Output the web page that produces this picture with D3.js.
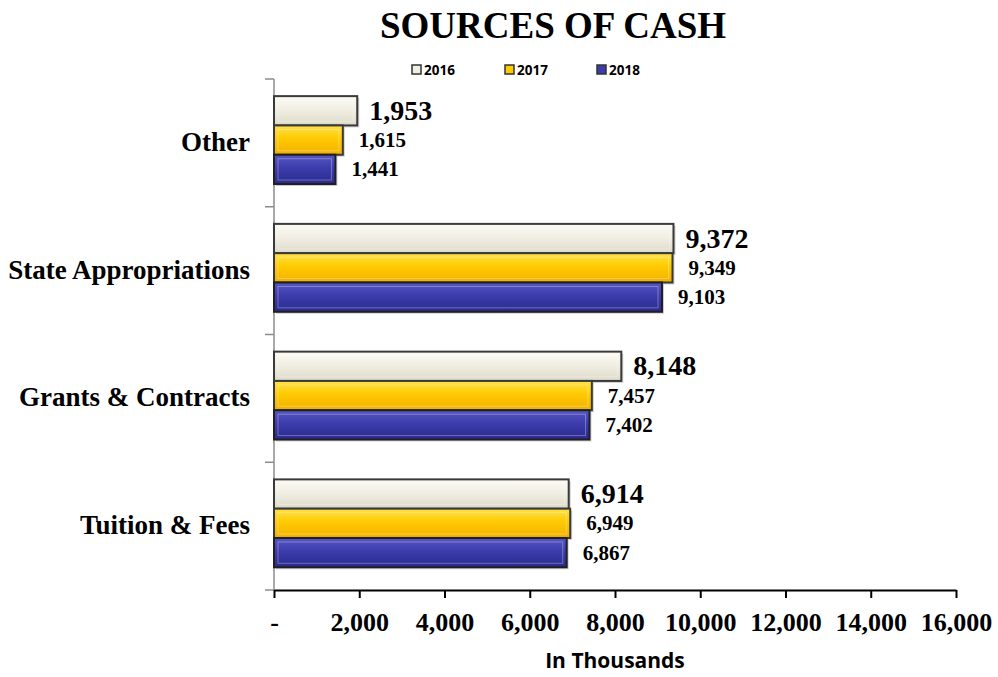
<!DOCTYPE html>
<html>
<head>
<meta charset="utf-8">
<script src="https://cdn.jsdelivr.net/npm/d3@7"></script>
<style>
  body { margin: 0; background: #fff; }
  svg { display: block; }
</style>
</head>
<body>
<div id="chart"></div>
<script>
// values (in thousands)
const categories = ["Other", "State Appropriations", "Grants & Contracts", "Tuition & Fees"];
const years = ["2016", "2017", "2018"];
const values2016 = [1953, 9372, 8148, 6914];
const values2017 = [1615, 9349, 7457, 6949];
const values2018 = [1441, 9103, 7402, 6867];
const xTicks = [0, 2000, 4000, 6000, 8000, 10000, 12000, 14000, 16000];

const width = 998, height = 677;
const plotLeft = 274, plotRight = 956, plotTop = 79, plotBottom = 590;

const seriesByYear = { "2016": values2016, "2017": values2017, "2018": values2018 };

const colors = {
    "2016": { top: "#fbfaf4", mid: "#f1efe4", bottom: "#dddac9", stroke: "#3a3a3a" },
    "2017": { top: "#ffe24a", mid: "#ffca00", bottom: "#f2b000", stroke: "#3a3a3a" },
    "2018": { top: "#5656c4", mid: "#3c3cac", bottom: "#2a2a8e", stroke: "#202020" }
};

const serif = "'Liberation Serif', 'Times New Roman', serif";

const svg = d3.select("#chart")
    .append("svg")
    .attr("width", width)
    .attr("height", height);

const defs = svg.append("defs");
years.forEach(y => {
    let g = defs.append("linearGradient")
        .attr("id", "grad" + y)
        .attr("x1", 0).attr("y1", 0).attr("x2", 0).attr("y2", 1);
    g.append("stop").attr("offset", "0%").attr("stop-color", colors[y].top);
    g.append("stop").attr("offset", "45%").attr("stop-color", colors[y].mid);
    g.append("stop").attr("offset", "100%").attr("stop-color", colors[y].bottom);
});

const x = d3.scaleLinear().domain([0, 16000]).range([plotLeft, plotRight]);
const y0 = d3.scaleBand().domain(categories).range([plotTop, plotBottom]);
const y1 = d3.scaleBand().domain(years).range([0, y0.bandwidth()]).paddingOuter(0.68).align(0.43);

// title
svg.append("text")
    .attr("x", 553).attr("y", 38)
    .attr("text-anchor", "middle")
    .style("font-family", serif)
    .style("font-weight", "bold")
    .style("font-size", "37px")
    .text("SOURCES OF CASH");

// legend
const legendX = [412, 505, 597];
const legend = svg.append("g");
years.forEach((yr, i) => {
    let g = legend.append("g").attr("transform", "translate(" + legendX[i] + ",65)");
    g.append("rect")
        .attr("width", 9).attr("height", 9)
        .attr("fill", colors[yr].mid)
        .attr("stroke", "#333").attr("stroke-width", 1.5);
    g.append("text")
        .attr("x", 12).attr("y", 10)
        .style("font-family", "'Open Sans', sans-serif")
        .style("font-weight", "bold")
        .style("font-size", "13.5px")
        .text(yr);
});

// y axis (category separators)
const yAxis = svg.append("g");
yAxis.append("line")
    .attr("x1", plotLeft).attr("x2", plotLeft)
    .attr("y1", plotTop).attr("y2", plotBottom)
    .attr("stroke", "#8c8c8c").attr("stroke-width", 1.5);
const sepYs = categories.map(c => y0(c)).concat([plotBottom]);
yAxis.selectAll("line.sep")
    .data(sepYs)
    .enter()
    .append("line")
    .attr("class", "sep")
    .attr("x1", plotLeft - 9).attr("x2", plotLeft)
    .attr("y1", d => d).attr("y2", d => d)
    .attr("stroke", "#8c8c8c").attr("stroke-width", 1.5);

yAxis.selectAll("text")
    .data(categories)
    .enter()
    .append("text")
    .attr("x", plotLeft - 24)
    .attr("y", d => y0(d) + y0.bandwidth() / 2 + 8)
    .attr("text-anchor", "end")
    .style("font-family", serif)
    .style("font-weight", "bold")
    .style("font-size", "27px")
    .text(d => d);

// x axis
const xAxis = svg.append("g")
    .attr("transform", "translate(0," + plotBottom + ")")
    .call(d3.axisBottom(x)
        .tickValues(xTicks)
        .tickSizeInner(8)
        .tickSizeOuter(0)
        .tickPadding(15)
        .tickFormat(d => d === 0 ? "-" : d3.format(",")(d)));
xAxis.select(".domain").attr("stroke", "#000").attr("stroke-width", 2);
xAxis.selectAll(".tick line").attr("stroke", "#000").attr("stroke-width", 2);
xAxis.selectAll(".tick text")
    .attr("fill", "#000")
    .style("font-family", serif)
    .style("font-weight", "bold")
    .style("font-size", "26px");

svg.append("text")
    .attr("x", 615).attr("y", 668)
    .attr("text-anchor", "middle")
    .style("font-family", "'Open Sans', sans-serif")
    .style("font-weight", "bold")
    .style("font-size", "21px")
    .text("In Thousands");

// bars
const barData = [];
categories.forEach((c, i) => {
    years.forEach(yr => {
        barData.push({ category: c, year: yr, value: seriesByYear[yr][i] });
    });
});

const bars = svg.append("g").attr("class", "bars");

// soft drop shadow
bars.selectAll("rect.shadow")
    .data(barData)
    .enter()
    .append("rect")
    .attr("class", "shadow")
    .attr("x", x(0) + 2)
    .attr("y", d => y0(d.category) + y1(d.year) + 2)
    .attr("width", d => x(d.value) - x(0))
    .attr("height", y1.bandwidth())
    .attr("fill", "#000")
    .attr("opacity", 0.18);

bars.selectAll("rect.bar")
    .data(barData)
    .enter()
    .append("rect")
    .attr("class", "bar")
    .attr("x", x(0))
    .attr("y", d => y0(d.category) + y1(d.year))
    .attr("width", d => x(d.value) - x(0))
    .attr("height", y1.bandwidth())
    .attr("fill", d => "url(#grad" + d.year + ")")
    .attr("stroke", d => colors[d.year].stroke)
    .attr("stroke-width", 2);

// bevel highlight
bars.selectAll("rect.bevel")
    .data(barData)
    .enter()
    .append("rect")
    .attr("class", "bevel")
    .attr("x", x(0) + 4)
    .attr("y", d => y0(d.category) + y1(d.year) + 4)
    .attr("width", d => Math.max(0, x(d.value) - x(0) - 8))
    .attr("height", y1.bandwidth() - 8)
    .attr("fill", "none")
    .attr("stroke", "#fff")
    .attr("stroke-opacity", 0.3)
    .attr("stroke-width", 1);

// value labels
bars.selectAll("text")
    .data(barData)
    .enter()
    .append("text")
    .attr("x", d => x(d.value) + (d.year === "2016" ? 12 : 16))
    .attr("y", d => y0(d.category) + y1(d.year) + y1.bandwidth() / 2 + (d.year === "2016" ? 9 : 7))
    .style("font-family", serif)
    .style("font-weight", "bold")
    .style("font-size", d => d.year === "2016" ? "28px" : "21px")
    .text(d => d3.format(",")(d.value));
</script>
</body>
</html>
